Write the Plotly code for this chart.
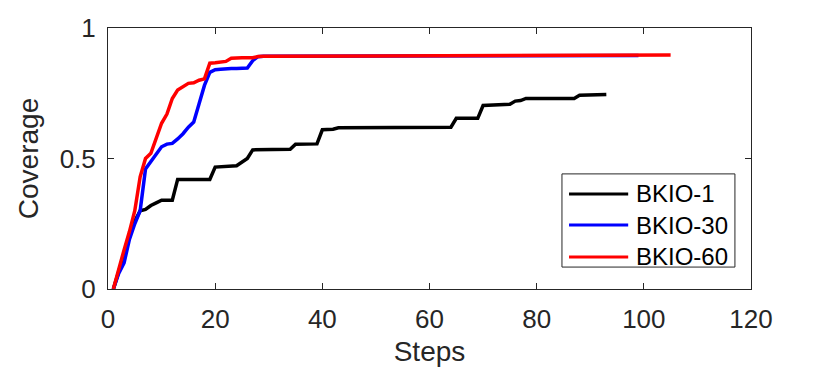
import plotly.graph_objects as go

# BKIO-1 (black) - change points
steps_1 = [1, 2, 3, 4, 5, 6, 7, 8, 9, 10, 12, 13, 19, 20, 24, 25, 26, 27, 34, 35,
           39, 40, 42, 43, 59, 60, 64, 65, 69, 70, 74, 75, 76, 77, 78, 87, 88, 93]
cov_1 = [0, 0.07, 0.13, 0.2, 0.26, 0.30, 0.305, 0.32, 0.33, 0.34, 0.34, 0.42, 0.42,
         0.467, 0.472, 0.485, 0.50, 0.533, 0.535, 0.555, 0.556, 0.61, 0.612, 0.618,
         0.618, 0.62, 0.62, 0.654, 0.654, 0.703, 0.706, 0.708, 0.72, 0.722, 0.73,
         0.73, 0.742, 0.745]

# BKIO-30 (blue)
steps_30 = list(range(1, 30)) + [40, 60, 80, 99]
cov_30 = [0, 0.06, 0.1, 0.19, 0.25, 0.30, 0.46, 0.49, 0.52, 0.545, 0.555, 0.558,
          0.575, 0.595, 0.62, 0.64, 0.71, 0.78, 0.83, 0.84, 0.842, 0.845, 0.845,
          0.845, 0.845, 0.847, 0.875, 0.89, 0.892, 0.892, 0.893, 0.894, 0.895]

# BKIO-60 (red)
steps_60 = list(range(1, 30)) + [50, 70, 90, 105]
cov_60 = [0, 0.08, 0.15, 0.22, 0.30, 0.43, 0.50, 0.52, 0.58, 0.635, 0.67, 0.73,
          0.762, 0.775, 0.788, 0.79, 0.80, 0.805, 0.865, 0.867, 0.868, 0.872, 0.884,
          0.886, 0.886, 0.886, 0.886, 0.891, 0.892, 0.893, 0.894, 0.896, 0.897]

x_ticks = [0, 20, 40, 60, 80, 100, 120]
y_ticks = [0, 0.5, 1]
y_tick_text = ["0", "0.5", "1"]

txt = "#262626"
series = [
    ("BKIO-1", steps_1, cov_1, "#000000"),
    ("BKIO-30", steps_30, cov_30, "#0000FF"),
    ("BKIO-60", steps_60, cov_60, "#FF0000"),
]

fig = go.Figure()
for name, xs, ys, col in series:
    fig.add_trace(go.Scatter(x=xs, y=ys, name=name, mode="lines",
                             line=dict(color=col, width=3.5), showlegend=False))

# MATLAB-style legend box, drawn by hand so the sample lines are long enough
fig.add_shape(type="rect", xref="paper", yref="paper",
              x0=0.706, x1=0.975, y0=0.084, y1=0.441,
              line=dict(color=txt, width=1), fillcolor="white", layer="above")
row_y = [0.364, 0.245, 0.123]
for (name, _, _, col), ry in zip(series, row_y):
    fig.add_shape(type="line", xref="paper", yref="paper",
                  x0=0.717, x1=0.809, y0=ry, y1=ry,
                  line=dict(color=col, width=3), layer="above")
    fig.add_annotation(text=name, xref="paper", yref="paper", x=0.818, y=ry,
                       xanchor="left", yanchor="middle", showarrow=False,
                       font=dict(size=24, color="#000000"))

axis_common = dict(
    showline=True, linecolor=txt, linewidth=1, mirror="ticks",
    ticks="inside", ticklen=6, tickcolor=txt, tickwidth=1,
    showgrid=False, zeroline=False, automargin=False,
    tickfont=dict(size=26, color=txt),
)

fig.update_xaxes(range=[0, 120], tickvals=x_ticks, ticklabelstandoff=7,
                 title=dict(text="Steps", font=dict(size=28, color=txt), standoff=8),
                 **axis_common)
fig.update_yaxes(range=[0, 1], tickvals=y_ticks, ticktext=y_tick_text,
                 ticklabelstandoff=6,
                 title=dict(text="Coverage", font=dict(size=28, color=txt), standoff=12),
                 **axis_common)

# the page body adds an 8px offset, so the margins are shifted to compensate
fig.update_layout(
    width=830, height=384,
    margin=dict(l=100, r=87, t=20, b=103),
    plot_bgcolor="white", paper_bgcolor="white",
    font=dict(family="Liberation Sans, Arial, sans-serif", color=txt),
    showlegend=False,
)

fig.write_html("out.html")
